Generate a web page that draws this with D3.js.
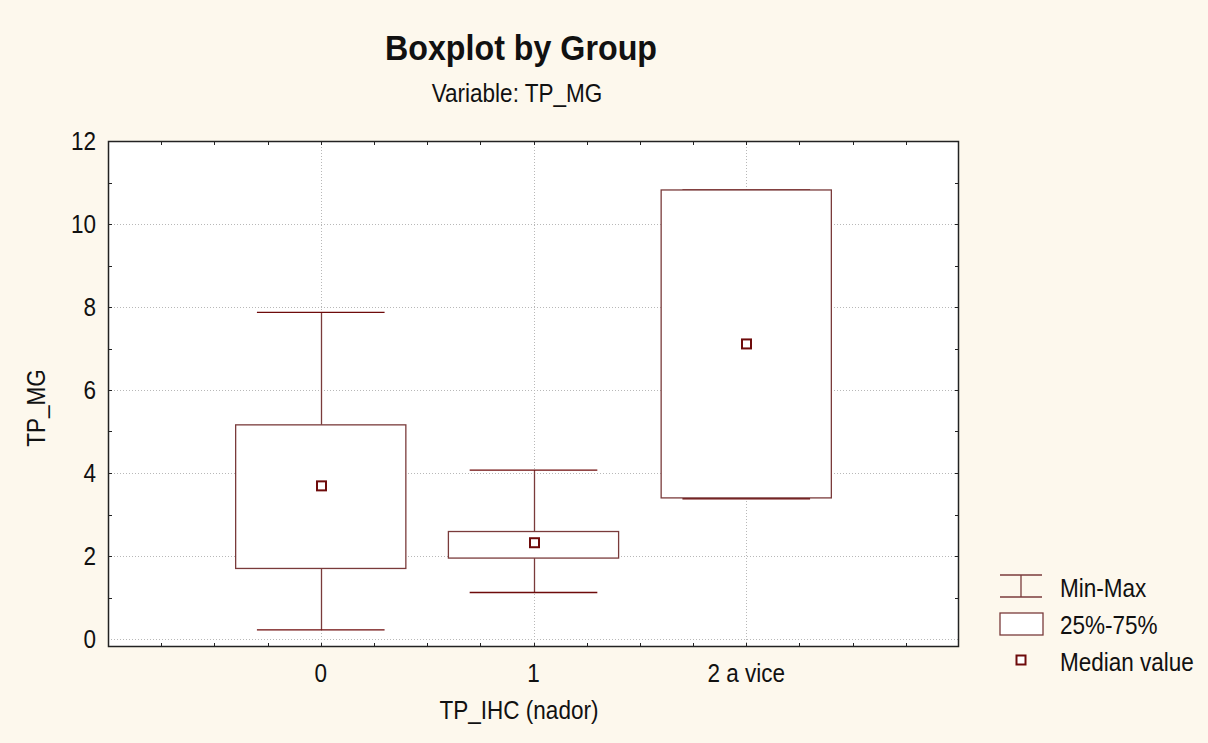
<!DOCTYPE html>
<html>
<head>
<meta charset="utf-8">
<script src="https://cdn.jsdelivr.net/npm/d3@7"></script>
<style>
  html, body { margin: 0; padding: 0; background: #fdf8ed; }
  svg { display: block; }
  text { font-family: "Liberation Sans", Arial, sans-serif; fill: #111; }
</style>
</head>
<body>
<svg id="chart" width="1208" height="743"></svg>
<script>
// Group summary statistics for TP_MG by TP_IHC (nador)
const categories = ["0", "1", "2 a vice"];
const minValues    = [0.22, 1.12, 3.38];
const q1Values     = [1.70, 1.95, 3.40];
const medianValues = [3.69, 2.32, 7.11];
const q3Values     = [5.16, 2.59, 10.82];
const maxValues    = [7.87, 4.07, 10.82];
const yTicks = [0, 2, 4, 6, 8, 10, 12];
const yMinorTicks = [1, 3, 5, 7, 9, 11];

const svg = d3.select("#chart");
const W = 1208, H = 743;
const plot = { left: 108, right: 959, top: 141, bottom: 647 };

svg.append("rect").attr("width", W).attr("height", H).attr("fill", "#fdf8ed");

const x = d3.scaleLinear().domain([-1, 3]).range([plot.left, plot.right]);
const y = d3.scaleLinear().domain([0, 12]).range([639, 141]);

const stroke = "#7a3b3b";
const medianStroke = "#6e0b0b";
const boxHalf = 0.4, capHalf = 0.3;
const fs = 25;

// narrow the glyphs slightly, keeping the text's anchor
function condense(sel, k) {
  sel.each(function () {
    const w = this.getComputedTextLength();
    d3.select(this).attr("textLength", w * k).attr("lengthAdjust", "spacingAndGlyphs");
  });
  return sel;
}

// plot background
svg.append("rect")
  .attr("x", plot.left).attr("y", plot.top)
  .attr("width", plot.right - plot.left).attr("height", plot.bottom - plot.top)
  .attr("fill", "#ffffff");

// dotted grid
const grid = svg.append("g").attr("stroke", "#b8b8b8").attr("stroke-dasharray", "1,2").attr("stroke-width", 1);
yTicks.filter(v => v < 12).forEach(v => {
  grid.append("line").attr("x1", plot.left).attr("x2", plot.right)
    .attr("y1", Math.round(y(v)) + 0.5).attr("y2", Math.round(y(v)) + 0.5);
});
categories.forEach((c, i) => {
  grid.append("line").attr("y1", plot.top).attr("y2", plot.bottom)
    .attr("x1", Math.round(x(i)) + 0.5).attr("x2", Math.round(x(i)) + 0.5);
});

// boxes and whiskers
const g = svg.append("g");
categories.forEach((c, i) => {
  const cx = Math.round(x(i)) + 0.5;
  // whiskers
  g.append("line").attr("x1", cx).attr("x2", cx)
    .attr("y1", y(q3Values[i])).attr("y2", y(maxValues[i]))
    .attr("stroke", stroke).attr("stroke-width", 1.3);
  g.append("line").attr("x1", cx).attr("x2", cx)
    .attr("y1", y(q1Values[i])).attr("y2", y(minValues[i]))
    .attr("stroke", stroke).attr("stroke-width", 1.3);
  // caps
  [minValues[i], maxValues[i]].forEach(v => {
    g.append("line").attr("x1", x(i - capHalf)).attr("x2", x(i + capHalf))
      .attr("y1", y(v)).attr("y2", y(v))
      .attr("stroke", medianStroke).attr("stroke-width", 1.4);
  });
  // box
  g.append("rect")
    .attr("x", x(i - boxHalf)).attr("width", x(i + boxHalf) - x(i - boxHalf))
    .attr("y", y(q3Values[i])).attr("height", y(q1Values[i]) - y(q3Values[i]))
    .attr("fill", "#ffffff").attr("stroke", stroke).attr("stroke-width", 1.3);
  // median marker
  g.append("rect")
    .attr("x", cx - 4.5).attr("y", y(medianValues[i]) - 4.5)
    .attr("width", 9).attr("height", 9)
    .attr("fill", "#ffffff").attr("stroke", medianStroke).attr("stroke-width", 2);
});

// frame
svg.append("rect")
  .attr("x", plot.left + 0.5).attr("y", plot.top + 0.5)
  .attr("width", plot.right - plot.left - 1).attr("height", plot.bottom - plot.top - 1)
  .attr("fill", "none").attr("stroke", "#222").attr("stroke-width", 1.5);

// inward ticks on all four sides
const tk = svg.append("g").attr("stroke", "#222").attr("stroke-width", 1);
const yAll = yTicks.concat(yMinorTicks).filter(v => v > 0 && v < 12);
yAll.forEach(v => {
  const yy = Math.round(y(v)) + 0.5;
  tk.append("line").attr("x1", plot.left).attr("x2", plot.left + 4).attr("y1", yy).attr("y2", yy);
  tk.append("line").attr("x1", plot.right - 4).attr("x2", plot.right).attr("y1", yy).attr("y2", yy);
});
d3.range(-0.75, 3, 0.25).forEach(v => {
  const xx = Math.round(x(v)) + 0.5;
  tk.append("line").attr("y1", plot.bottom - 4).attr("y2", plot.bottom).attr("x1", xx).attr("x2", xx);
  tk.append("line").attr("y1", plot.top).attr("y2", plot.top + 4).attr("x1", xx).attr("x2", xx);
});

const k = 0.9;
// y tick labels
yTicks.forEach(v => {
  condense(svg.append("text").attr("x", 96).attr("y", y(v)).attr("dy", "0.36em")
    .attr("text-anchor", "end").attr("font-size", fs).text(v), k);
});
// x tick labels
categories.forEach((c, i) => {
  condense(svg.append("text").attr("x", x(i)).attr("y", 682)
    .attr("text-anchor", "middle").attr("font-size", fs).text(c), k);
});

// titles
svg.append("text").attr("x", 521).attr("y", 60).attr("text-anchor", "middle")
  .attr("font-size", 35).attr("font-weight", "bold")
  .attr("textLength", 272).attr("lengthAdjust", "spacingAndGlyphs")
  .text("Boxplot by Group");
condense(svg.append("text").attr("x", 517).attr("y", 102).attr("text-anchor", "middle")
  .attr("font-size", fs).text("Variable: TP_MG"), k);
condense(svg.append("text").attr("x", 519).attr("y", 719).attr("text-anchor", "middle")
  .attr("font-size", fs).text("TP_IHC (nador)"), k);
condense(svg.append("text").attr("transform", "translate(45,408) rotate(-90)")
  .attr("text-anchor", "middle").attr("font-size", fs).text("TP_MG"), k);

// legend
const lg = svg.append("g");
lg.append("line").attr("x1", 1000).attr("x2", 1042).attr("y1", 575).attr("y2", 575).attr("stroke", stroke).attr("stroke-width", 1.3);
lg.append("line").attr("x1", 1000).attr("x2", 1042).attr("y1", 597).attr("y2", 597).attr("stroke", stroke).attr("stroke-width", 1.3);
lg.append("line").attr("x1", 1021).attr("x2", 1021).attr("y1", 575).attr("y2", 597).attr("stroke", stroke).attr("stroke-width", 1.3);
lg.append("rect").attr("x", 1000).attr("y", 613).attr("width", 43).attr("height", 22)
  .attr("fill", "#ffffff").attr("stroke", stroke).attr("stroke-width", 1.3);
lg.append("rect").attr("x", 1016.5).attr("y", 655.5).attr("width", 9).attr("height", 9)
  .attr("fill", "#ffffff").attr("stroke", medianStroke).attr("stroke-width", 2);
[["Min-Max", 597], ["25%-75%", 634], ["Median value", 671]].forEach(([t, yy]) => {
  condense(lg.append("text").attr("x", 1060).attr("y", yy).attr("font-size", fs).text(t), k);
});
</script>
</body>
</html>
